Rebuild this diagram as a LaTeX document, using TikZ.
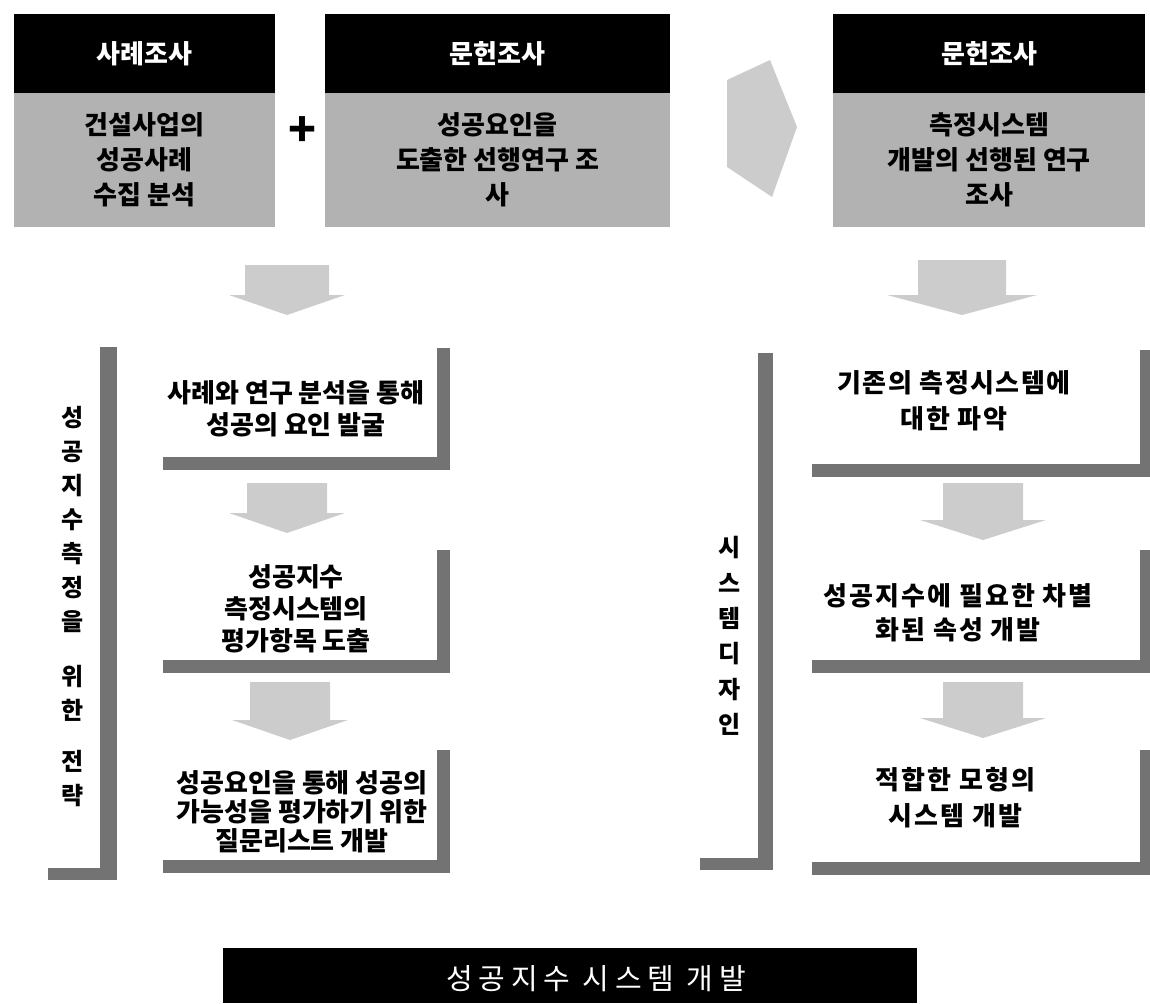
\documentclass[tikz,border=0pt]{standalone}
\usepackage{fontspec}
\setmainfont{Noto Sans CJK KR}
\usetikzlibrary{calc}
\definecolor{bodygrey}{gray}{0.70}
\definecolor{bargrey}{gray}{0.45}
\definecolor{arrgrey}{gray}{0.80}
\newcommand{\dnarrow}[6]{%
  \fill[arrgrey] ({#1-#4},#2) -- ({#1+#4},#2) -- ({#1+#4},{#3-#6}) -- ({#1+#5},{#3-#6})
    -- (#1,#3) -- ({#1-#5},{#3-#6}) -- ({#1-#4},{#3-#6}) -- cycle;}
\begin{document}
\begin{tikzpicture}[x=1pt,y=-1pt,
  hdr/.style={fill=black,text=white,font=\bfseries\fontsize{26}{30}\selectfont,
    inner sep=0pt,anchor=north west,minimum height=79pt},
  bodybox/.style={fill=bodygrey,text=black,font=\bfseries\fontsize{26}{35}\selectfont,
    inner sep=0pt,anchor=north west,minimum height=134pt,align=center},
  txt/.style={text=black,font=\bfseries\fontsize{26}{32}\selectfont,inner sep=0pt,align=center},
  vtxt/.style={text=black,font=\bfseries\fontsize{24}{34}\selectfont,inner sep=0pt,align=center},
  bar/.style={fill=bargrey}
]
\useasboundingbox (0,0) rectangle (1150,1003);

% top row
\node[hdr,minimum width=261pt] (h1) at (14,14) {사례조사};
\node[bodybox,minimum width=261pt] (b1) at (14,93) {건설사업의\\성공사례\\수집 분석};
\node[font=\bfseries\fontsize{46}{46}\selectfont,inner sep=0pt] (plus) at (303,132) {+};
\node[hdr,minimum width=345pt] (h2) at (325,14) {문헌조사};
\node[bodybox,minimum width=345pt] (b2) at (325,93) {성공요인을\\도출한 선행연구 조\\사};
\fill[arrgrey] (727,80) -- (770,60) -- (797,127) -- (772,197) -- (727,167) -- cycle;
\node[hdr,minimum width=312pt] (h3) at (833,14) {문헌조사};
\node[bodybox,minimum width=312pt] (b3) at (833,93) {측정시스템\\개발의 선행된 연구\\조사};

% arrows below top boxes
\dnarrow{287}{265}{315}{42}{58}{20}
\dnarrow{962}{260}{315}{44}{75}{20}

% left bracket and label
\fill[bar] (100,347) rectangle (117,880);
\fill[bar] (48,868) rectangle (117,880);
\node[vtxt] (lv) at (73,607) {성\\공\\지\\수\\측\\정\\을\\[21pt]위\\한\\[17pt]전\\략};

% right bracket and label
\fill[bar] (758,353) rectangle (773,870);
\fill[bar] (700,858) rectangle (773,870);
\node[vtxt,font=\bfseries\fontsize{24}{35.4}\selectfont] (rv) at (730,636) {시\\스\\템\\디\\자\\인};

% left column boxes
\fill[bar] (437,348) rectangle (450,470);
\fill[bar] (163,457) rectangle (450,470);
\node[txt] (l1) at (296,409) {사례와 연구 분석을 통해\\성공의 요인 발굴};
\dnarrow{287}{483}{533}{40}{58}{20}
\fill[bar] (437,550) rectangle (450,673);
\fill[bar] (163,660) rectangle (450,673);
\node[txt] (l2) at (296,609) {성공지수\\측정시스템의\\평가항목 도출};
\dnarrow{290}{682}{740}{40}{58}{20}
\fill[bar] (437,750) rectangle (450,873);
\fill[bar] (163,860) rectangle (450,873);
\node[txt,font=\bfseries\fontsize{26}{29}\selectfont] (l3) at (302,812) {성공요인을 통해 성공의\\가능성을 평가하기 위한\\질문리스트 개발};

% right column boxes
\fill[bar] (1140,350) rectangle (1150,477);
\fill[bar] (812,464) rectangle (1150,477);
\node[txt,font=\bfseries\addfontfeature{LetterSpace=6}\fontsize{26}{36}\selectfont] (r1) at (954,401) {기존의 측정시스템에\\대한 파악};
\dnarrow{983}{483}{540}{40}{63}{20}
\fill[bar] (1140,550) rectangle (1150,673);
\fill[bar] (812,660) rectangle (1150,673);
\node[txt,font=\bfseries\addfontfeature{LetterSpace=8}\fontsize{26}{34}\selectfont] (r2) at (958,613) {성공지수에 필요한 차별\\화된 속성 개발};
\dnarrow{983}{682}{738}{40}{63}{20}
\fill[bar] (1140,750) rectangle (1150,875);
\fill[bar] (812,862) rectangle (1150,875);
\node[txt,font=\bfseries\addfontfeature{LetterSpace=8}\fontsize{26}{36}\selectfont] (r3) at (955,798) {적합한 모형의\\시스템 개발};

% final bar
\node[fill=black,inner sep=0pt,anchor=north west,minimum width=694pt,minimum height=55pt] (final) at (223,948) {};
\node[text=white,font=\addfontfeature{LetterSpace=20}\fontsize{29}{32}\selectfont,inner sep=0pt] (finaltxt) at (596,979) {성공지수 시스템 개발};
\end{tikzpicture}
\end{document}
